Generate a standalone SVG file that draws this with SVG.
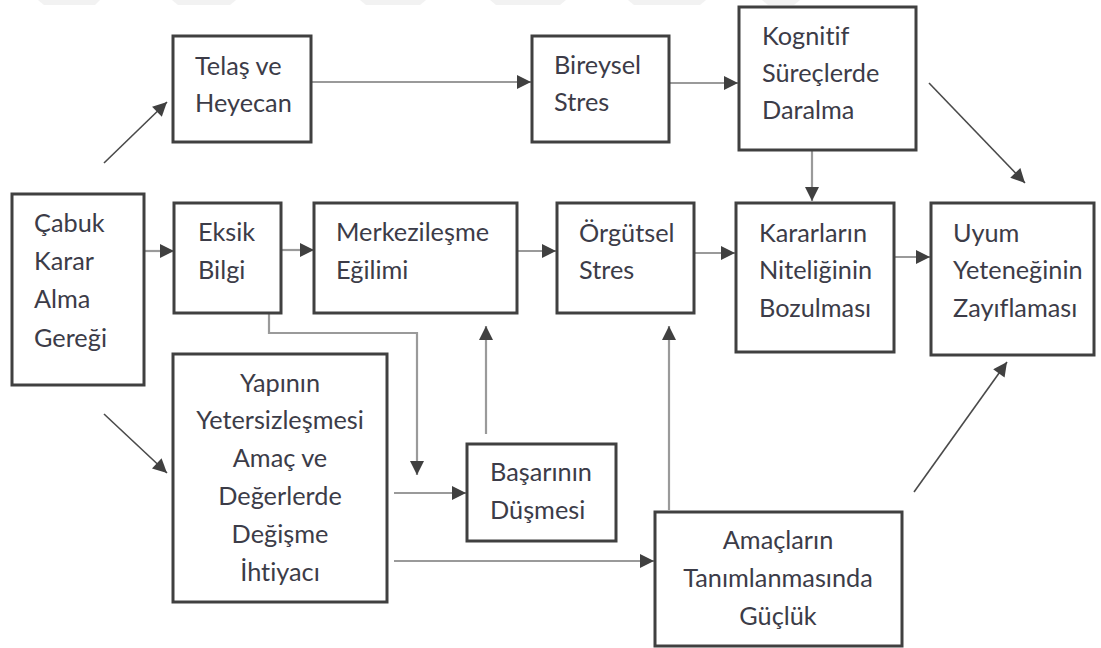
<svg xmlns="http://www.w3.org/2000/svg" width="1101" height="648" viewBox="0 0 1101 648">
<style>
.box{fill:#fff;stroke:#404040;stroke-width:3}
.t{font-family:Lato,"Open Sans",sans-serif;font-size:25.3px;fill:#3c3c48;font-variant-ligatures:none;font-feature-settings:"liga" 0}
.c{text-anchor:middle}
.ln{stroke:#9a9a9a;stroke-width:2.2;fill:none}
.dg{stroke:#4a4a4a;stroke-width:1.6;fill:none}
.wm{fill:#f2f2f2}
</style>
<defs>
<marker id="ah" viewBox="0 0 10 10" refX="10" refY="5" markerUnits="userSpaceOnUse" markerWidth="15" markerHeight="14" orient="auto">
<path d="M0,0 L10,5 L0,10 z" fill="#404040"/>
</marker>
</defs>
<g id="watermark">
<polygon class="wm" points="38,0 100,0 95,5 44,5"/>
<polygon class="wm" points="172,0 236,0 230,5 178,5"/>
<polygon class="wm" points="360,0 426,0 420,5 366,5"/>
<polygon class="wm" points="490,0 566,0 560,5 496,5"/>
<polygon class="wm" points="628,0 706,0 700,5 634,5"/>
<polygon class="wm" points="762,0 800,0 794,5 768,5"/>
</g>
<g id="connectors">
<line class="dg" x1="104" y1="163" x2="167" y2="102" marker-end="url(#ah)"/>
<line class="dg" x1="104" y1="414" x2="167" y2="473" marker-end="url(#ah)"/>
<line class="ln" x1="311" y1="82" x2="531" y2="82" marker-end="url(#ah)"/>
<line class="ln" x1="670" y1="83" x2="738" y2="83" marker-end="url(#ah)"/>
<line class="ln" x1="812" y1="151" x2="812" y2="201" marker-end="url(#ah)"/>
<line class="dg" x1="929" y1="83" x2="1025" y2="183" marker-end="url(#ah)"/>
<line class="ln" x1="145" y1="251" x2="174" y2="251" marker-end="url(#ah)"/>
<line class="ln" x1="282" y1="250" x2="314" y2="250" marker-end="url(#ah)"/>
<line class="ln" x1="518" y1="251" x2="556" y2="251" marker-end="url(#ah)"/>
<line class="ln" x1="695" y1="253" x2="735" y2="253" marker-end="url(#ah)"/>
<line class="ln" x1="895" y1="257" x2="930" y2="257" marker-end="url(#ah)"/>
<polyline class="ln" points="269,314 269,333 417,333 417,475" marker-end="url(#ah)"/>
<line class="ln" x1="486" y1="434" x2="486" y2="326" marker-end="url(#ah)"/>
<line class="ln" x1="394" y1="493" x2="466" y2="493" marker-end="url(#ah)"/>
<line class="ln" x1="394" y1="561" x2="654" y2="561" marker-end="url(#ah)"/>
<line class="ln" x1="669" y1="510" x2="669" y2="326" marker-end="url(#ah)"/>
<line class="dg" x1="914" y1="492" x2="1007" y2="362" marker-end="url(#ah)"/>
</g>
<g id="n-telas">
<rect class="box" x="173" y="36" width="138" height="106"/>
<text class="t" x="195" y="75">Telaş ve</text>
<text class="t" x="195" y="112">Heyecan</text>
</g>
<g id="n-bireysel">
<rect class="box" x="532" y="36" width="137" height="106"/>
<text class="t" x="554" y="74">Bireysel</text>
<text class="t" x="554" y="111">Stres</text>
</g>
<g id="n-kognitif">
<rect class="box" x="739" y="7" width="177" height="143"/>
<text class="t" x="762" y="45">Kognitif</text>
<text class="t" x="762" y="82">Süreçlerde</text>
<text class="t" x="762" y="119">Daralma</text>
</g>
<g id="n-cabuk">
<rect class="box" x="12" y="194" width="132" height="191"/>
<text class="t" x="34" y="232">Çabuk</text>
<text class="t" x="34" y="270">Karar</text>
<text class="t" x="34" y="308">Alma</text>
<text class="t" x="34" y="347">Gereği</text>
</g>
<g id="n-eksik">
<rect class="box" x="174" y="203" width="107" height="110"/>
<text class="t" x="198" y="241">Eksik</text>
<text class="t" x="198" y="279">Bilgi</text>
</g>
<g id="n-merkez">
<rect class="box" x="314" y="203" width="203" height="110"/>
<text class="t" x="336" y="241">Merkezileşme</text>
<text class="t" x="336" y="279">Eğilimi</text>
</g>
<g id="n-orgutsel">
<rect class="box" x="557" y="203" width="137" height="110"/>
<text class="t" x="579" y="242">Örgütsel</text>
<text class="t" x="579" y="279">Stres</text>
</g>
<g id="n-kararlarin">
<rect class="box" x="736" y="203" width="158" height="149"/>
<text class="t" x="759" y="242">Kararların</text>
<text class="t" x="759" y="279">Niteliğinin</text>
<text class="t" x="759" y="317">Bozulması</text>
</g>
<g id="n-uyum">
<rect class="box" x="931" y="203" width="163" height="152"/>
<text class="t" x="953" y="242">Uyum</text>
<text class="t" x="953" y="279">Yeteneğinin</text>
<text class="t" x="953" y="317">Zayıflaması</text>
</g>
<g id="n-yapinin">
<rect class="box" x="173" y="354" width="214" height="248"/>
<text class="t c" x="280" y="392">Yapının</text>
<text class="t c" x="280" y="429">Yetersizleşmesi</text>
<text class="t c" x="280" y="467">Amaç ve</text>
<text class="t c" x="280" y="505">Değerlerde</text>
<text class="t c" x="280" y="543">Değişme</text>
<text class="t c" x="280" y="581">İhtiyacı</text>
</g>
<g id="n-basarinin">
<rect class="box" x="467" y="444" width="149" height="97"/>
<text class="t" x="490" y="481">Başarının</text>
<text class="t" x="490" y="519">Düşmesi</text>
</g>
<g id="n-amaclarin">
<rect class="box" x="655" y="512" width="247" height="134"/>
<text class="t c" x="778" y="549">Amaçların</text>
<text class="t c" x="778" y="587">Tanımlanmasında</text>
<text class="t c" x="778" y="625">Güçlük</text>
</g>
</svg>
